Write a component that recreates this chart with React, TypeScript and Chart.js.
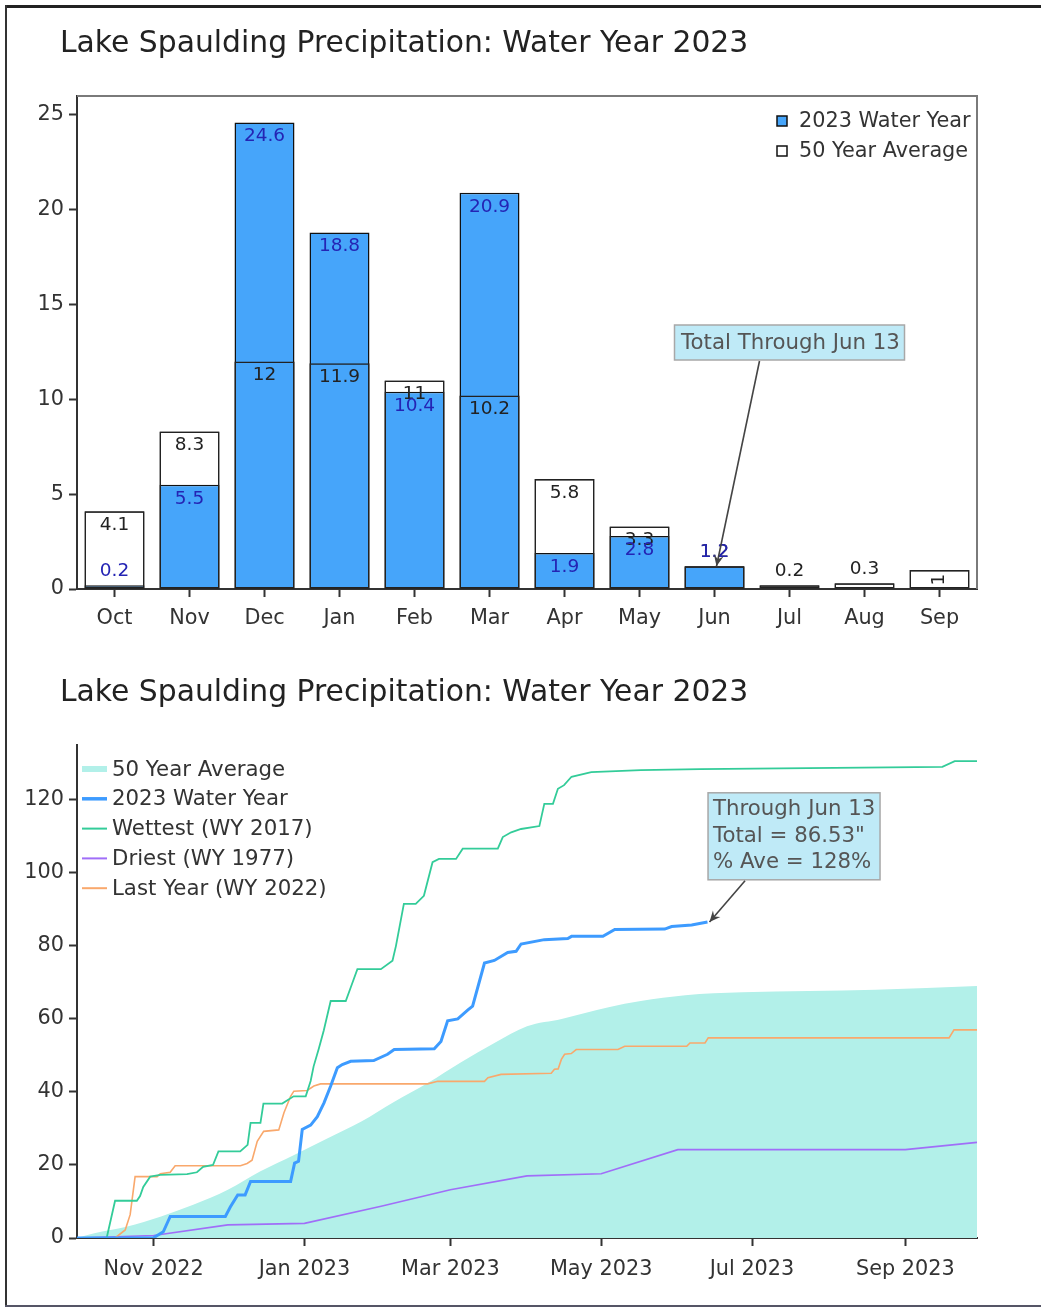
import React, { useEffect, useRef } from 'react';
import { Chart, registerables } from 'chart.js';

Chart.register(...registerables);

const FONT = '"DejaVu Sans", Verdana, sans-serif';
const chartTitle = 'Lake Spaulding Precipitation: Water Year 2023';

// ---------- Monthly chart data ----------
const months = ['Oct', 'Nov', 'Dec', 'Jan', 'Feb', 'Mar', 'Apr', 'May', 'Jun', 'Jul', 'Aug', 'Sep'];
const wy2023Monthly: (number | null)[] = [0.2, 5.5, 24.6, 18.8, 10.4, 20.9, 1.9, 2.8, 1.2, null, null, null];
const avgMonthly: number[] = [4.1, 8.3, 12, 11.9, 11, 10.2, 5.8, 3.3, 1.2, 0.2, 0.3, 1];
const monthlyYTicks = [0, 5, 10, 15, 20, 25];
const monthlyLegend = ['2023 Water Year', '50 Year Average'];
const monthlyNote = 'Total Through Jun 13';

// ---------- Cumulative chart data (x = day of water year, 0 = Oct 1 2022) ----------
const cumTickDays = [31, 92, 151, 212, 273, 335];
const cumTickLabels = ['Nov 2022', 'Jan 2023', 'Mar 2023', 'May 2023', 'Jul 2023', 'Sep 2023'];
const cumYTicks = [0, 20, 40, 60, 80, 100, 120];
const cumSeriesNames = ['50 Year Average', '2023 Water Year', 'Wettest (WY 2017)', 'Driest (WY 1977)', 'Last Year (WY 2022)'];
const cumNote = ['Through Jun 13', 'Total = 86.53"', '% Ave = 128%'];

const avgCumulative: [number, number][] = [
  [0, 0], [7, 1.3], [20, 3.1], [34, 5.9], [47, 9.1], [61, 13.2], [74, 18.2], [88, 22.8], [101, 27.2],
  [115, 31.9], [128, 37.2], [142, 42.5], [155, 48], [169, 53.5], [182, 58], [196, 60], [215, 63.2],
  [228, 64.9], [246, 66.5], [269, 67.3], [323, 68], [364, 69],
];
const wy2023Cumulative: [number, number][] = [
  [0, 0], [30.8, 0], [34.9, 1.7], [37.7, 5.9], [60, 5.9], [62, 8.5], [65, 11.8], [68, 11.8], [70.2, 15.5],
  [86.4, 15.5], [88, 20.5], [89.6, 21], [91.1, 29.7], [94.5, 30.9], [97.2, 33.2], [99.9, 37], [102.6, 41.6],
  [105.3, 46.6], [107.3, 47.5], [110.7, 48.4], [120, 48.6], [125.6, 50.3], [128.3, 51.6], [144.5, 51.8],
  [147.2, 53.8], [149.9, 59.5], [154, 60], [158, 62.4], [160, 63.5], [164.8, 75.3], [168.8, 76], [174.2, 78.2],
  [177.6, 78.5], [179.6, 80.5], [189, 81.7], [198.5, 82], [200, 82.6], [212.7, 82.6], [217.5, 84.5],
  [237.7, 84.6], [240.5, 85.3], [248.6, 85.7], [255, 86.53],
];
const wettestCumulative: [number, number][] = [
  [0, 0], [12, 0], [15.4, 10.2], [24.2, 10.2], [25.5, 11.5], [26.8, 14], [29.6, 16.8], [33.7, 17.3], [44.5, 17.5],
  [48.5, 18], [51, 19.5], [55, 20], [57.2, 23.7], [66, 23.7], [69, 25.5], [70.2, 31.5], [74.2, 31.5], [75.4, 36.8],
  [83, 36.8], [87.6, 38.8], [92.5, 38.8], [94.5, 43], [95.7, 47], [97.7, 51.6], [99.8, 56.8], [102.6, 64.9],
  [108.7, 64.9], [110.7, 68.6], [113.4, 73.6], [122.9, 73.6], [127.6, 75.9], [129, 80], [132.2, 91.5], [137, 91.5],
  [140.3, 93.7], [143.8, 102.9], [146.4, 103.8], [153.3, 103.8], [156, 106.6], [170.2, 106.6], [172.2, 109.8],
  [175.6, 111.1], [179.6, 112], [187, 112.8], [189, 118.9], [192.5, 118.9], [194.5, 123], [197, 124], [200, 126.3],
  [208, 127.6], [228, 128.1], [252, 128.4], [350, 129], [355, 130.6], [364, 130.6],
];
const driestCumulative: [number, number][] = [
  [0, 0], [31, 0.7], [61, 3.6], [92, 4.0], [123, 8.7], [151, 13.2], [182, 17.0], [212, 17.6], [243, 24.2],
  [273, 24.2], [304, 24.2], [335, 24.2], [364, 26.2],
];
const lastYearCumulative: [number, number][] = [
  [0, 0], [15.4, 0], [19.5, 2.2], [21.5, 6.4], [23.5, 16.8], [32.4, 16.8], [33.7, 17.6], [37.7, 18], [39.7, 19.8],
  [66.1, 19.8], [68.8, 20.4], [70.8, 21.3], [72.9, 26.5], [75.5, 29.2], [81.6, 29.6], [83.7, 34.3], [86.4, 38.8],
  [87.7, 40.2], [93.1, 40.4], [95.8, 41.6], [98.5, 42.2], [141.8, 42.2], [145.9, 42.9], [164.8, 42.9], [166.2, 43.9],
  [171.5, 44.8], [191.8, 45.1], [193.1, 46.2], [194.6, 46.3], [195.9, 48.9], [197.2, 50.3], [199.9, 50.5],
  [201.9, 51.6], [218.8, 51.6], [221.5, 52.5], [246.6, 52.5], [247.9, 53.4], [254, 53.4], [255.3, 54.8],
  [352.7, 54.8], [354.7, 57], [364, 57],
];

// ---------- styles ----------
const BAR_BLUE = '#46a5fa';
const AVG_FILL = '#b2f0e9';
const LINE_BLUE = '#3d9bff';
const WET = '#33cc99';
const DRY = '#a06ef8';
const LAST = '#f9a86c';
const NOTE_BG = '#bfeaf7';
const TEXT = '#333';
const TICK_SIZE = 20.8;

function drawArrow(ctx: CanvasRenderingContext2D, x1: number, y1: number, x2: number, y2: number) {
  ctx.save();
  ctx.strokeStyle = '#444';
  ctx.fillStyle = '#444';
  ctx.lineWidth = 1.6;
  ctx.beginPath();
  ctx.moveTo(x1, y1);
  ctx.lineTo(x2, y2);
  ctx.stroke();
  const a = Math.atan2(y2 - y1, x2 - x1);
  const L = 12, W = 0.42;
  ctx.beginPath();
  ctx.moveTo(x2, y2);
  ctx.lineTo(x2 - L * Math.cos(a - W), y2 - L * Math.sin(a - W));
  ctx.lineTo(x2 - L * 0.6 * Math.cos(a), y2 - L * 0.6 * Math.sin(a));
  ctx.lineTo(x2 - L * Math.cos(a + W), y2 - L * Math.sin(a + W));
  ctx.closePath();
  ctx.fill();
  ctx.restore();
}

const monthlyExtras = {
  id: 'monthlyExtras',
  afterDraw(chart: any) {
    const { ctx, chartArea } = chart;
    const xs = chart.scales.x;
    const ys = chart.scales.y;
    ctx.save();
    // top & right frame
    ctx.strokeStyle = '#7a7a7a';
    ctx.lineWidth = 2;
    ctx.beginPath();
    ctx.moveTo(chartArea.left, chartArea.top);
    ctx.lineTo(chartArea.right, chartArea.top);
    ctx.lineTo(chartArea.right, chartArea.bottom);
    ctx.stroke();

    // bar labels
    const base = ys.getPixelForValue(0);
    const drawLabels = (values: (number | null)[], color: string) => {
      ctx.font = `18.5px ${FONT}`;
      ctx.fillStyle = color;
      ctx.textAlign = 'center';
      ctx.textBaseline = 'middle';
      values.forEach((v, i) => {
        if (v == null) return;
        const x = xs.getPixelForValue(i);
        const top = ys.getPixelForValue(v);
        const h = base - top;
        const txt = String(v);
        const w = ctx.measureText(txt).width;
        if (h >= 30) {
          ctx.fillText(txt, x, top + 14);
        } else if (w + 4 <= h) {
          ctx.save();
          ctx.translate(x, top + h / 2);
          ctx.rotate(-Math.PI / 2);
          ctx.fillText(txt, 0, 0);
          ctx.restore();
        } else {
          ctx.fillText(txt, x, top - 14);
        }
      });
    };
    drawLabels(avgMonthly, '#222');
    drawLabels(wy2023Monthly, '#2424b4');

    // legend
    ctx.font = `20.8px ${FONT}`;
    ctx.textAlign = 'left';
    ctx.textBaseline = 'middle';
    const lx = chartArea.right - 200;
    const fills = [BAR_BLUE, '#ffffff'];
    monthlyLegend.forEach((name, i) => {
      const cy = chartArea.top + 25 + i * 30;
      ctx.fillStyle = fills[i];
      ctx.fillRect(lx, cy - 5, 10, 10);
      ctx.strokeStyle = '#111';
      ctx.lineWidth = 1.5;
      ctx.strokeRect(lx, cy - 5, 10, 10);
      ctx.fillStyle = TEXT;
      ctx.fillText(name, lx + 22, cy + 1);
    });

    // annotation
    const bx = xs.getPixelForValue(9);
    const by = ys.getPixelForValue(13);
    const bw = 230, bh = 35;
    const left = bx - bw / 2, top = by - bh / 2;
    ctx.fillStyle = NOTE_BG;
    ctx.fillRect(left, top, bw, bh);
    ctx.strokeStyle = '#a8a8a8';
    ctx.lineWidth = 1.5;
    ctx.strokeRect(left, top, bw, bh);
    ctx.font = `21.3px ${FONT}`;
    ctx.fillStyle = '#555';
    ctx.textAlign = 'center';
    ctx.fillText(monthlyNote, bx + 1, by + 1);
    ctx.restore();
    drawArrow(ctx, bx - 30, top + bh + 1, xs.getPixelForValue(8) + 2, ys.getPixelForValue(1.2));
  },
};

const cumulativeExtras = {
  id: 'cumulativeExtras',
  afterDraw(chart: any) {
    const { ctx, chartArea } = chart;
    const xs = chart.scales.x;
    const ys = chart.scales.y;
    ctx.save();
    // legend
    const styles = [
      { c: AVG_FILL, w: 6 },
      { c: LINE_BLUE, w: 3.5 },
      { c: WET, w: 2 },
      { c: DRY, w: 2 },
      { c: LAST, w: 2 },
    ];
    ctx.font = `21.3px ${FONT}`;
    ctx.textAlign = 'left';
    ctx.textBaseline = 'middle';
    cumSeriesNames.forEach((name, i) => {
      const cy = chartArea.top + 24 + i * 29.8;
      ctx.strokeStyle = styles[i].c;
      ctx.lineWidth = styles[i].w;
      ctx.beginPath();
      ctx.moveTo(chartArea.left + 5, cy);
      ctx.lineTo(chartArea.left + 30, cy);
      ctx.stroke();
      ctx.fillStyle = TEXT;
      ctx.fillText(name, chartArea.left + 35, cy + 1);
    });

    // annotation
    const cx = xs.getPixelForValue(290);
    const cy = ys.getPixelForValue(110);
    const bw = 172, bh = 87;
    const left = cx - bw / 2, top = cy - bh / 2;
    ctx.fillStyle = NOTE_BG;
    ctx.fillRect(left, top, bw, bh);
    ctx.strokeStyle = '#a8a8a8';
    ctx.lineWidth = 1.5;
    ctx.strokeRect(left, top, bw, bh);
    ctx.fillStyle = '#555';
    cumNote.forEach((line, i) => {
      ctx.fillText(line, left + 5, top + 17 + i * 26.5);
    });
    ctx.restore();
    const last = wy2023Cumulative[wy2023Cumulative.length - 1];
    drawArrow(ctx, left + 37, top + bh + 1, xs.getPixelForValue(last[0]) + 2, ys.getPixelForValue(last[1]));
  },
};

const axisCommon = {
  grid: { drawOnChartArea: false, drawTicks: true, tickLength: 8, tickColor: '#333', tickWidth: 2 },
  border: { display: true, color: '#333', width: 2 },
};

export default function App() {
  const topRef = useRef<HTMLCanvasElement>(null);
  const botRef = useRef<HTMLCanvasElement>(null);

  useEffect(() => {
    const barCommon = { grouped: false, barPercentage: 0.8, categoryPercentage: 1, borderSkipped: false };
    const c1 = new Chart(topRef.current as HTMLCanvasElement, {
      type: 'bar',
      data: {
        labels: months,
        datasets: [
          { label: '50 Year Average', data: avgMonthly, backgroundColor: '#ffffff', borderColor: '#333', borderWidth: 1.5, order: 3, ...barCommon } as any,
          { label: '2023 Water Year', data: wy2023Monthly, backgroundColor: BAR_BLUE, borderColor: '#111', borderWidth: 1.5, order: 2, ...barCommon } as any,
          { label: '50 Year Average outline', data: avgMonthly, backgroundColor: 'rgba(0,0,0,0)', borderColor: '#222', borderWidth: 1.5, order: 1, ...barCommon } as any,
        ],
      },
      options: {
        responsive: false,
        animation: false,
        devicePixelRatio: 1,
        layout: { padding: { top: 96, right: 64, bottom: 0, left: 0 } },
        plugins: { legend: { display: false }, tooltip: { enabled: false }, title: { display: false } },
        scales: {
          x: {
            ...axisCommon,
            grid: { ...axisCommon.grid, offset: false },
            ticks: { font: { family: FONT, size: TICK_SIZE }, color: TEXT, padding: 9, maxRotation: 0, autoSkip: false },
            afterFit: (s: any) => { s.height = 61; },
          },
          y: {
            ...axisCommon,
            min: 0,
            max: 26,
            ticks: { font: { family: FONT, size: TICK_SIZE }, color: TEXT, padding: 5 },
            afterBuildTicks: (s: any) => { s.ticks = monthlyYTicks.map((v) => ({ value: v })); },
            afterFit: (s: any) => { s.width = 77; },
          },
        },
      } as any,
      plugins: [monthlyExtras],
    });

    const toXY = (arr: [number, number][]) => arr.map(([x, y]) => ({ x, y }));
    const c2 = new Chart(botRef.current as HTMLCanvasElement, {
      type: 'line',
      data: {
        datasets: [
          { label: cumSeriesNames[0], data: toXY(avgCumulative), fill: 'origin', backgroundColor: AVG_FILL, borderColor: AVG_FILL, borderWidth: 0, cubicInterpolationMode: 'monotone', order: 5 } as any,
          { label: cumSeriesNames[3], data: toXY(driestCumulative), borderColor: DRY, borderWidth: 1.6, fill: false, order: 4 },
          { label: cumSeriesNames[4], data: toXY(lastYearCumulative), borderColor: LAST, borderWidth: 1.6, fill: false, order: 3 },
          { label: cumSeriesNames[2], data: toXY(wettestCumulative), borderColor: WET, borderWidth: 1.8, fill: false, order: 2 },
          { label: cumSeriesNames[1], data: toXY(wy2023Cumulative), borderColor: LINE_BLUE, borderWidth: 3, fill: false, order: 1 },
        ],
      },
      options: {
        responsive: false,
        animation: false,
        devicePixelRatio: 1,
        layout: { padding: { top: 95, right: 64, bottom: 0, left: 0 } },
        elements: { point: { radius: 0 }, line: { tension: 0 } },
        plugins: { legend: { display: false }, tooltip: { enabled: false }, title: { display: false } },
        scales: {
          x: {
            ...axisCommon,
            type: 'linear',
            min: 0,
            max: 364,
            ticks: {
              font: { family: FONT, size: TICK_SIZE }, color: TEXT, padding: 11, maxRotation: 0, autoSkip: false,
              callback: (_v: any, i: number) => cumTickLabels[i] ?? '',
            },
            afterBuildTicks: (s: any) => { s.ticks = cumTickDays.map((v) => ({ value: v })); },
            afterFit: (s: any) => { s.height = 71; },
          },
          y: {
            ...axisCommon,
            min: 0,
            max: 135,
            ticks: { font: { family: FONT, size: TICK_SIZE }, color: TEXT, padding: 5 },
            afterBuildTicks: (s: any) => { s.ticks = cumYTicks.map((v) => ({ value: v })); },
            afterFit: (s: any) => { s.width = 77; },
          },
        },
      } as any,
      plugins: [cumulativeExtras],
    });

    return () => {
      c1.destroy();
      c2.destroy();
    };
  }, []);

  const titleStyle: React.CSSProperties = {
    position: 'absolute',
    left: 60,
    font: `29.8px ${FONT}`,
    lineHeight: '34px',
    color: '#222',
    whiteSpace: 'nowrap',
  };

  return (
    <div style={{ position: 'fixed', left: 0, top: 0, width: 1041, height: 1309, overflow: 'hidden', background: '#fff' }}>
      <canvas ref={topRef} width={1041} height={650} style={{ position: 'absolute', left: 0, top: 0, width: 1041, height: 650 }} />
      <canvas ref={botRef} width={1041} height={659} style={{ position: 'absolute', left: 0, top: 650, width: 1041, height: 659 }} />
      <div style={{ ...titleStyle, top: 25 }}>{chartTitle}</div>
      <div style={{ ...titleStyle, top: 674 }}>{chartTitle}</div>
      <div style={{ position: 'absolute', left: 5, top: 5, width: 1100, height: 3, background: '#222' }} />
      <div style={{ position: 'absolute', left: 5, top: 5, width: 2, height: 1302, background: '#333' }} />
      <div style={{ position: 'absolute', left: 5, top: 1305, width: 1100, height: 2, background: '#556' }} />
    </div>
  );
}
